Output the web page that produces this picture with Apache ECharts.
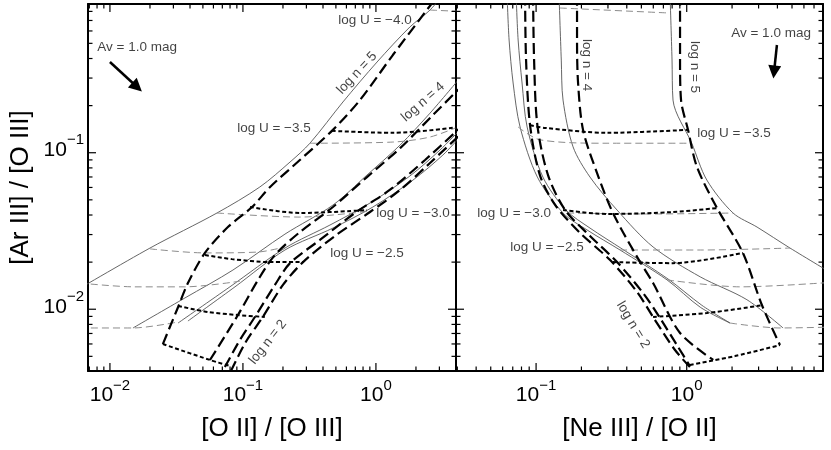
<!DOCTYPE html>
<html>
<head>
<meta charset="utf-8">
<script src="https://cdn.jsdelivr.net/npm/echarts@6.0.0/dist/echarts.min.js"></script>
<style>
html, body { margin: 0; padding: 0; background: #fff; }
#chart { width: 831px; height: 450px; }
</style>
</head>
<body>
<div id="chart"></div>
<script>
var FONT = '"Liberation Sans", Arial, Helvetica, sans-serif';

// axis ranges
var xRangeLeft = [0.00684, 4.00];
var xRangeRight = [0.0294, 8.03];
var yRange = [0.00403, 0.892];

// decades that carry a tick label (powers of ten)
var xDecadesLeft = [-2, -1, 0];
var xDecadesRight = [-1, 0];
var yDecades = [-2, -1];

// ---- left panel: [O II]/[O III] vs [Ar III]/[O III] ----
// model grid drawn thick dashed (constant n) + dotted (constant U)
var nDash5L = [[0.0250,0.00599],[0.0325,0.0103],[0.0386,0.0147],[0.0518,0.0229],[0.0771,0.0335],[0.117,0.0450],[0.160,0.0604],[0.268,0.0898],[0.475,0.140],[0.758,0.217],[1.34,0.421],[2.68,0.918]];
var nDash4L = [[0.0565,0.00474],[0.0917,0.00918],[0.130,0.0154],[0.174,0.0222],[0.268,0.0311],[0.475,0.0450],[0.856,0.0699],[1.52,0.107],[2.68,0.174],[4.28,0.259]];
var nDash3L = [[0.0732,0.00427],[0.0949,0.00636],[0.123,0.00892],[0.174,0.0143],[0.226,0.0197],[0.379,0.0277],[0.695,0.0412],[1.27,0.0578],[2.34,0.0898],[4.28,0.144]];
var nDash2L = [[0.0812,0.00403],[0.105,0.00617],[0.141,0.00892],[0.200,0.0143],[0.283,0.0200],[0.492,0.0294],[0.902,0.0418],[1.52,0.0578],[2.55,0.0860],[4.28,0.130]];
var uDot15L = [[0.0250,0.00599],[0.0565,0.00474],[0.0798,0.00434]];
var uDot20L = [[0.0325,0.0105],[0.0546,0.00960],[0.0917,0.00918],[0.146,0.00892]];
var uDot25L = [[0.0518,0.0222],[0.0827,0.0209],[0.160,0.0200],[0.283,0.0200]];
var uDot30L = [[0.113,0.0450],[0.268,0.0412],[0.856,0.0430]];
var uDot35L = [[0.467,0.138],[1.34,0.134],[4.28,0.146]];
// model grid drawn thin solid (constant n) + gray dashed (constant U)
var nThin5L = [[0.00500,0.0125],[0.0200,0.0246],[0.0638,0.0412],[0.134,0.0604],[0.226,0.0872],[0.319,0.115],[0.565,0.211],[1.02,0.380],[1.80,0.636],[2.55,0.816],[3.30,1.06]];
var nThin4L = [[0.0149,0.00759],[0.0366,0.0118],[0.0841,0.0178],[0.207,0.0302],[0.475,0.0463],[0.856,0.0720],[1.52,0.112],[2.55,0.179],[4.28,0.300]];
var nThin3L = [[0.0325,0.00816],[0.0798,0.0139],[0.207,0.0246],[0.451,0.0345],[0.902,0.0477],[1.80,0.0710],[3.03,0.104],[4.28,0.140]];
var nThin2L = [[0.0386,0.00841],[0.0871,0.0139],[0.207,0.0239],[0.475,0.0330],[0.949,0.0450],[1.90,0.0669],[3.19,0.0967],[4.28,0.126]];
var uGray15L = [[0.00595,0.00759],[0.0149,0.00759],[0.0325,0.00829]];
var uGray20L = [[0.00595,0.0147],[0.0154,0.0139],[0.0366,0.0139],[0.0949,0.0151]];
var uGray25L = [[0.0200,0.0243],[0.0518,0.0229],[0.130,0.0232],[0.207,0.0250]];
var uGray30L = [[0.0638,0.0412],[0.268,0.0388],[0.902,0.0424]];
var uGray35L = [[0.319,0.115],[1.34,0.117],[2.55,0.126],[4.28,0.148]];
var uGray40L = [[2.55,0.816],[4.28,0.800]];

// ---- right panel: [Ne III]/[O II] vs [Ar III]/[O III] ----
var nDash5R = [[0.903,1.02],[0.903,0.391],[0.917,0.217],[1.02,0.140],[1.17,0.0810],[1.59,0.0443],[2.36,0.0229],[3.16,0.0106],[4.16,0.00590]];
var nDash4R = [[0.187,1.02],[0.187,0.525],[0.190,0.279],[0.205,0.140],[0.254,0.0742],[0.324,0.0412],[0.468,0.0216],[0.598,0.0147],[0.903,0.00705],[1.50,0.00474]];
var nDash3R = [[0.0845,1.02],[0.0858,0.391],[0.0912,0.150],[0.106,0.0720],[0.134,0.0463],[0.196,0.0307],[0.310,0.0206],[0.468,0.0129],[0.616,0.00853],[0.836,0.00549],[1.05,0.00427]];
var nDash2R = [[0.0955,1.02],[0.0970,0.391],[0.102,0.150],[0.120,0.0720],[0.156,0.0430],[0.228,0.0294],[0.345,0.0200],[0.513,0.0127],[0.665,0.00878],[0.876,0.00574],[1.05,0.00434]];
var uDot35R = [[0.0912,0.150],[0.115,0.144],[0.296,0.134],[1.02,0.140]];
var uDot30R = [[0.151,0.0430],[0.296,0.0406],[0.811,0.0418],[1.59,0.0443]];
var uDot25R = [[0.324,0.0200],[0.811,0.0197],[2.36,0.0229]];
var uDot20R = [[0.598,0.00892],[1.36,0.00946],[3.16,0.0106]];
var uDot15R = [[1.05,0.00440],[2.09,0.00502],[4.16,0.00590]];
var nThin5R = [[0.775,1.02],[0.799,0.391],[0.811,0.217],[1.08,0.115],[1.36,0.0669],[2.03,0.0412],[2.93,0.0335],[4.85,0.0246],[9.64,0.0165]];
var nThin4R = [[0.142,1.02],[0.147,0.391],[0.151,0.217],[0.176,0.109],[0.228,0.0699],[0.345,0.0430],[0.598,0.0250],[1.23,0.0161],[2.51,0.0115],[4.36,0.00759]];
var nThin3R = [[0.0642,1.02],[0.0662,0.525],[0.0704,0.279],[0.0783,0.146],[0.102,0.0699],[0.151,0.0412],[0.218,0.0321],[0.361,0.0239],[0.740,0.0154],[1.23,0.0103],[1.94,0.00816]];
var nThin2R = [[0.0737,1.02],[0.0760,0.525],[0.0807,0.279],[0.0872,0.146],[0.111,0.0699],[0.158,0.0430],[0.228,0.0330],[0.372,0.0243],[0.752,0.0156],[1.26,0.0106],[1.94,0.00816]];
var uGray40R = [[0.144,0.841],[0.775,0.781]];
var uGray35R = [[0.0760,0.146],[0.106,0.121],[0.296,0.115],[1.08,0.115]];
var uGray30R = [[0.161,0.0412],[0.571,0.0406],[2.03,0.0412]];
var uGray25R = [[0.361,0.0239],[1.23,0.0239],[4.85,0.0246]];
var uGray20R = [[0.740,0.0154],[2.26,0.0139],[9.64,0.0149]];
var uGray15R = [[1.94,0.00816],[4.16,0.00759],[9.64,0.00770]];

// reddening vectors (Av = 1 mag)
var avArrowLeft = [[0.0100,0.380],[0.0160,0.263]];
var avArrowRight = [[3.97,0.488],[3.80,0.328]];

// text notes: [text, x, y, rotation]
var notesLeft = [
    ['log U = \u22124.0', 0.983, 0.705, 0],
    ['log U = \u22123.5', 0.171, 0.144, 0],
    ['log U = \u22123.0', 1.90, 0.0412, 0],
    ['log U = \u22122.5', 0.856, 0.0229, 0],
    ['Av = 1.0 mag', 0.0160, 0.474, 0],
    ['log n = 5', 0.720, 0.323, 47],
    ['log n = 4', 2.26, 0.211, 41],
    ['log n = 2', 0.154, 0.00617, 52]
];
var notesRight = [
    ['Av = 1.0 mag', 3.63, 0.582, 0],
    ['log U = \u22123.5', 2.06, 0.134, 0],
    ['log U = \u22123.0', 0.0715, 0.0412, 0],
    ['log U = \u22122.5', 0.118, 0.0250, 0],
    ['log n = 4', 0.218, 0.363, -90],
    ['log n = 5', 1.135, 0.353, -90],
    ['log n = 2', 0.440, 0.00793, -59]
];

var thickDash = {color: '#000', width: 2.2, dash: [11, 5], z: 4};
var dotted = {color: '#000', width: 2, dash: [4, 2.5], z: 4};
var grayDash = {color: '#8c8c8c', width: 1, dash: [7, 4], z: 3};
var thinSolid = {color: '#555', width: 0.9, dash: 'solid', z: 3};

function curve(data, g, st) {
    return {
        type: 'line', xAxisIndex: 2 * g, yAxisIndex: 2 * g, data: data,
        symbol: 'none', smooth: 0.3, silent: true, z: st.z,
        lineStyle: {color: st.color, width: st.width, type: st.dash}
    };
}

function axis(g, pos, range, title) {
    var a = {
        type: 'log', logBase: 10, gridIndex: g, position: pos,
        min: range[0], max: range[1],
        axisLine: {show: true, onZero: false, lineStyle: {color: '#000', width: 2}},
        axisTick: {show: false}, axisLabel: {show: false}, splitLine: {show: false}
    };
    if (title) {
        a.name = title;
        a.nameLocation = 'middle';
        a.nameTextStyle = {fontSize: 26, color: '#000', fontFamily: FONT};
        if (pos === 'left') {
            a.nameGap = 54;
            a.nameRotate = 90;
        } else {
            a.nameGap = 45;
        }
    }
    return a;
}

// tick list: [x, y, isY, major, exponent, labelled]
function tickData(xr, yr, xDec, yDec) {
    var out = [];
    for (var k = -4; k <= 1; k++) {
        for (var m = 1; m <= 9; m++) {
            var v = m * Math.pow(10, k);
            if (v >= xr[0] && v <= xr[1]) {
                out.push([v, yr[0] * 1.5, 0, m === 1 ? 1 : 0, k, (m === 1 && xDec.indexOf(k) >= 0) ? 1 : 0]);
            }
            if (v >= yr[0] && v <= yr[1]) {
                out.push([xr[0] * 1.5, v, 1, m === 1 ? 1 : 0, k, (m === 1 && yDec.indexOf(k) >= 0) ? 1 : 0]);
            }
        }
    }
    return out;
}

var richSup = {
    b: {fontSize: 21, fontFamily: FONT, fill: '#000', padding: [7, 0, 0, 0], verticalAlign: 'bottom'},
    s: {fontSize: 15, fontFamily: FONT, fill: '#000', verticalAlign: 'top'}
};

function renderTick(params, api) {
    var cs = params.coordSys;
    var p = api.coord([api.value(0), api.value(1)]);
    var isY = api.value(2) === 1;
    var len = api.value(3) ? 8 : 4.5;
    var st = {stroke: '#000', lineWidth: 1.2};
    var b = cs.y + cs.height;
    var r = cs.x + cs.width;
    var kids = [];
    if (!isY) {
        kids.push({type: 'line', shape: {x1: p[0], y1: b, x2: p[0], y2: b - len}, style: st});
        kids.push({type: 'line', shape: {x1: p[0], y1: cs.y, x2: p[0], y2: cs.y + len}, style: st});
    } else {
        kids.push({type: 'line', shape: {x1: cs.x, y1: p[1], x2: cs.x + len, y2: p[1]}, style: st});
        kids.push({type: 'line', shape: {x1: r, y1: p[1], x2: r - len, y2: p[1]}, style: st});
    }
    if (api.value(5)) {
        var e = api.value(4);
        var txt = '{b|10}{s|' + (e < 0 ? '\u2212' + (-e) : e) + '}';
        kids.push({
            type: 'text',
            x: isY ? cs.x - 4 : p[0],
            y: isY ? p[1] - 6 : b + 7,
            style: {
                text: txt, rich: richSup, fill: '#000',
                align: isY ? 'right' : 'center',
                verticalAlign: isY ? 'middle' : 'top'
            }
        });
    }
    return {type: 'group', children: kids};
}

function tickSeries(g, xr, xDec, yDec) {
    return {
        type: 'custom', xAxisIndex: 2 * g, yAxisIndex: 2 * g, z: 10, silent: true,
        renderItem: renderTick, data: tickData(xr, yRange, xDec, yDec)
    };
}

function noteSeries(notes, g) {
    return {
        type: 'scatter', xAxisIndex: 2 * g, yAxisIndex: 2 * g, symbolSize: 1, silent: true, z: 8,
        itemStyle: {color: 'rgba(0,0,0,0)'},
        label: {show: true, position: 'inside', formatter: '{b}', color: '#111', fontSize: 13.5, fontFamily: FONT},
        data: notes.map(function (n) {
            return {name: n[0], value: [n[1], n[2]], label: {rotate: n[3]}};
        })
    };
}

function arrowSeries(coords, g) {
    return {
        type: 'lines', coordinateSystem: 'cartesian2d', xAxisIndex: 2 * g, yAxisIndex: 2 * g,
        symbol: ['none', 'triangle'], symbolSize: 13, silent: true, z: 8,
        lineStyle: {color: '#000', width: 2.5, opacity: 1},
        data: [{coords: coords}]
    };
}

var series = [
    curve(nThin5L, 0, thinSolid), curve(nThin4L, 0, thinSolid), curve(nThin3L, 0, thinSolid), curve(nThin2L, 0, thinSolid),
    curve(uGray15L, 0, grayDash), curve(uGray20L, 0, grayDash), curve(uGray25L, 0, grayDash),
    curve(uGray30L, 0, grayDash), curve(uGray35L, 0, grayDash), curve(uGray40L, 0, grayDash),
    curve(nDash5L, 0, thickDash), curve(nDash4L, 0, thickDash), curve(nDash3L, 0, thickDash), curve(nDash2L, 0, thickDash),
    curve(uDot15L, 0, dotted), curve(uDot20L, 0, dotted), curve(uDot25L, 0, dotted), curve(uDot30L, 0, dotted), curve(uDot35L, 0, dotted),

    curve(nThin5R, 1, thinSolid), curve(nThin4R, 1, thinSolid), curve(nThin3R, 1, thinSolid), curve(nThin2R, 1, thinSolid),
    curve(uGray15R, 1, grayDash), curve(uGray20R, 1, grayDash), curve(uGray25R, 1, grayDash),
    curve(uGray30R, 1, grayDash), curve(uGray35R, 1, grayDash), curve(uGray40R, 1, grayDash),
    curve(nDash5R, 1, thickDash), curve(nDash4R, 1, thickDash), curve(nDash3R, 1, thickDash), curve(nDash2R, 1, thickDash),
    curve(uDot15R, 1, dotted), curve(uDot20R, 1, dotted), curve(uDot25R, 1, dotted), curve(uDot30R, 1, dotted), curve(uDot35R, 1, dotted),

    noteSeries(notesLeft, 0), noteSeries(notesRight, 1),
    arrowSeries(avArrowLeft, 0), arrowSeries(avArrowRight, 1),
    tickSeries(0, xRangeLeft, xDecadesLeft, yDecades),
    tickSeries(1, xRangeRight, xDecadesRight, [])
];

var myChart = echarts.init(document.getElementById('chart'));
myChart.setOption({
    animation: false,
    backgroundColor: '#fff',
    grid: [
        {left: 88, top: 4, width: 368, height: 367},
        {left: 456, top: 4, width: 367, height: 367}
    ],
    xAxis: [
        axis(0, 'bottom', xRangeLeft, '[O II] / [O III]'),
        axis(0, 'top', xRangeLeft),
        axis(1, 'bottom', xRangeRight, '[Ne III] / [O II]'),
        axis(1, 'top', xRangeRight)
    ],
    yAxis: [
        axis(0, 'left', yRange, '[Ar III] / [O III]'),
        axis(0, 'right', yRange),
        axis(1, 'left', yRange),
        axis(1, 'right', yRange)
    ],
    series: series
});
</script>
</body>
</html>
